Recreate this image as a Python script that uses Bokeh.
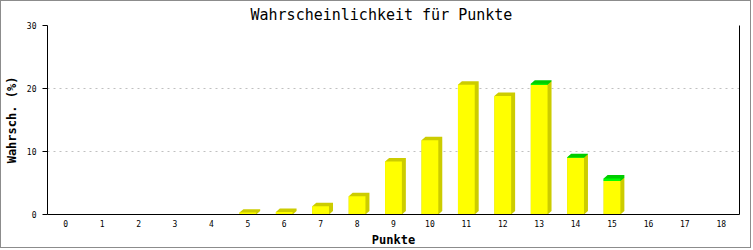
from bokeh.plotting import figure
from bokeh.models import Range1d, FixedTicker, LinearAxis, ColumnDataSource
from bokeh.embed import file_html
from bokeh.resources import INLINE

# ---- data ----
points = list(range(19))
tick_labels = [str(i) for i in points]
y_ticks = [0, 10, 20, 30]
p_main = [0, 0, 0, 0, 0, 0.3, 0.4, 1.3, 2.9, 8.4, 11.8, 20.6, 18.8, 20.6, 9.0, 5.3, 0, 0, 0]
p_extra = [0, 0, 0, 0, 0, 0, 0, 0, 0, 0, 0, 0, 0, 0.15, 0.1, 0.43, 0, 0, 0]

# ---- layout ----
W, H = 751, 248
ML, MR, MT, MB = 42, 13, 24, 34
X0, X1 = -0.5, 18.5
Y0, Y1 = 0, 30
px_x = (W - ML - MR) / (X1 - X0)
px_y = (H - MT - MB) / (Y1 - Y0)
DX = 4 / px_x
DY = 3.5 / px_y
BW = 0.46

FONT = "DejaVu Sans Mono"

p = figure(width=W, height=H, x_range=Range1d(X0, X1), y_range=Range1d(Y0, Y1),
           output_backend="svg", toolbar_location=None,
           min_border_left=ML, min_border_right=MR, min_border_top=MT, min_border_bottom=MB,
           title="Wahrscheinlichkeit für Punkte")
p.styles = {"border": "1px solid #8c8c8c"}
p.background_fill_color = "white"
p.border_fill_color = "white"
p.outline_line_color = None

p.title.text_font = FONT
p.title.text_font_size = "15px"
p.title.text_font_style = "normal"
p.title.text_color = "black"
p.title.align = "left"
p.title.offset = 203
p.title.standoff = 4

# grid
p.xgrid.visible = False
p.ygrid.ticker = FixedTicker(ticks=y_ticks)
p.ygrid.grid_line_color = "#c0c0c0"
p.ygrid.grid_line_dash = "2 4"

# axes
xa = p.xaxis[0]
xa.ticker = FixedTicker(ticks=points)
xa.major_label_overrides = {i: lbl for i, lbl in zip(points, tick_labels)}
xa.major_tick_out = 0
xa.major_tick_in = 0
xa.minor_tick_out = 0
xa.minor_tick_in = 0
xa.axis_line_color = "black"
xa.major_label_text_font = FONT
xa.major_label_text_font_size = "8px"
xa.major_label_text_color = "black"
xa.major_label_standoff = 5
xa.axis_label = "Punkte"
xa.axis_label_text_font = FONT
xa.axis_label_text_font_size = "12px"
xa.axis_label_text_font_style = "bold"
xa.axis_label_text_color = "black"
xa.axis_label_standoff = 3

ya = p.yaxis[0]
ya.ticker = FixedTicker(ticks=y_ticks)
ya.major_tick_out = 5
ya.major_tick_in = 0
ya.minor_tick_out = 0
ya.minor_tick_in = 0
ya.axis_line_color = "black"
ya.major_tick_line_color = "black"
ya.major_label_text_font = FONT
ya.major_label_text_font_size = "8px"
ya.major_label_text_color = "black"
ya.major_label_standoff = 6
ya.axis_label = "Wahrsch. (%)"
ya.axis_label_text_font = FONT
ya.axis_label_text_font_size = "12px"
ya.axis_label_text_font_style = "bold"
ya.axis_label_text_color = "black"
ya.axis_label_standoff = 5

ra = LinearAxis(ticker=FixedTicker(ticks=[]), major_label_text_font_size="0px",
                major_tick_out=0, major_tick_in=0, minor_tick_out=0, minor_tick_in=0,
                axis_line_color="black")
p.add_layout(ra, "right")

# ---- 3D-shaded stacked bars ----
def segments(bottoms, heights):
    shade_xs, shade_ys, fl, fr, fb, ft = [], [], [], [], [], []
    for x, b, h in zip(points, bottoms, heights):
        if h <= 0:
            continue
        t = b + h
        x0, x1 = x - BW / 2, x + BW / 2
        shade_xs.append([x0, x0 + DX, x1 + DX, x1 + DX, x1, x0])
        shade_ys.append([t, t + DY, t + DY, b + DY, b, b])
        fl.append(x0); fr.append(x1); fb.append(b); ft.append(t)
    return (ColumnDataSource(dict(xs=shade_xs, ys=shade_ys)),
            ColumnDataSource(dict(left=fl, right=fr, bottom=fb, top=ft)))

zeros = [0] * len(points)
s1, f1 = segments(zeros, p_main)
s2, f2 = segments(p_main, p_extra)

p.patches("xs", "ys", source=s1, fill_color="#cccc00", line_color=None)
p.quad(left="left", right="right", bottom="bottom", top="top", source=f1,
       fill_color="#ffff00", line_color=None)
p.patches("xs", "ys", source=s2, fill_color="#00cc00", line_color=None)
p.quad(left="left", right="right", bottom="bottom", top="top", source=f2,
       fill_color="#00ff00", line_color=None)

open("out.html", "w").write(file_html(p, INLINE))
